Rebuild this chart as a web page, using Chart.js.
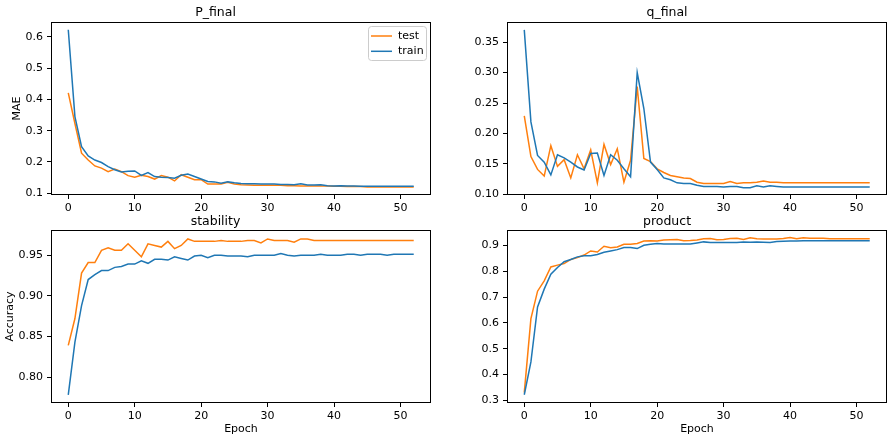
<!DOCTYPE html>
<html>
<head>
<meta charset="utf-8">
<script src="https://cdn.jsdelivr.net/npm/chart.js@4.4.0/dist/chart.umd.min.js"></script>
<style>
body { margin: 0; background: #fff; }
#wrap { position: relative; width: 894px; height: 441px; }
canvas { position: absolute; }
</style>
</head>
<body>
<div id="wrap">
	<canvas id="cP" width="447" height="214" style="left:0;top:0"></canvas>
	<canvas id="cQ" width="447" height="214" style="left:447px;top:0"></canvas>
	<canvas id="cS" width="447" height="229" style="left:0;top:212px"></canvas>
	<canvas id="cR" width="447" height="229" style="left:447px;top:212px"></canvas>
</div>
<script>
// values, epochs 0..52
var pTest = [0.421, 0.323, 0.228, 0.206, 0.187, 0.180, 0.169, 0.177, 0.169, 0.156,
	0.151, 0.157, 0.153, 0.145, 0.156, 0.151, 0.139, 0.159, 0.151, 0.143,
	0.143, 0.129, 0.129, 0.129, 0.135, 0.129, 0.127, 0.126, 0.125, 0.125,
	0.125, 0.125, 0.125, 0.124, 0.124, 0.123, 0.123, 0.123, 0.123, 0.123,
	0.122, 0.122, 0.121, 0.121, 0.121, 0.120, 0.120, 0.120, 0.120, 0.120,
	0.120, 0.120, 0.120];
var pTrain = [0.623, 0.345, 0.249, 0.219, 0.206, 0.198, 0.185, 0.175, 0.168, 0.170,
	0.171, 0.157, 0.166, 0.153, 0.151, 0.150, 0.148, 0.157, 0.161, 0.153,
	0.145, 0.137, 0.136, 0.132, 0.136, 0.133, 0.131, 0.130, 0.130, 0.129,
	0.129, 0.129, 0.128, 0.128, 0.127, 0.130, 0.126, 0.126, 0.127, 0.124,
	0.123, 0.124, 0.123, 0.123, 0.122, 0.122, 0.122, 0.122, 0.122, 0.122,
	0.122, 0.122, 0.122];

var qTest = [0.229, 0.162, 0.141, 0.130, 0.180, 0.146, 0.157, 0.127, 0.165, 0.142,
	0.173, 0.119, 0.182, 0.149, 0.175, 0.120, 0.156, 0.277, 0.159, 0.154,
	0.142, 0.136, 0.131, 0.129, 0.127, 0.126, 0.120, 0.118, 0.118, 0.118,
	0.118, 0.121, 0.118, 0.119, 0.119, 0.120, 0.122, 0.120, 0.120, 0.119,
	0.119, 0.119, 0.119, 0.119, 0.119, 0.119, 0.119, 0.119, 0.119, 0.119,
	0.119, 0.119, 0.119];
var qTrain = [0.370, 0.219, 0.164, 0.153, 0.132, 0.165, 0.160, 0.153, 0.145, 0.140,
	0.167, 0.168, 0.131, 0.165, 0.156, 0.142, 0.129, 0.300, 0.241, 0.153,
	0.141, 0.127, 0.124, 0.119, 0.118, 0.118, 0.115, 0.113, 0.113, 0.113,
	0.112, 0.113, 0.113, 0.111, 0.111, 0.114, 0.112, 0.114, 0.113, 0.112,
	0.112, 0.112, 0.112, 0.112, 0.112, 0.112, 0.112, 0.112, 0.112, 0.112,
	0.112, 0.112, 0.112];

var sTest = [0.839, 0.872, 0.928, 0.941, 0.941, 0.956, 0.959, 0.956, 0.956, 0.964,
	0.956, 0.948, 0.964, 0.962, 0.960, 0.967, 0.958, 0.962, 0.970, 0.967,
	0.967, 0.967, 0.967, 0.968, 0.967, 0.967, 0.967, 0.968, 0.968, 0.965,
	0.970, 0.968, 0.968, 0.968, 0.966, 0.970, 0.970, 0.968, 0.968, 0.968,
	0.968, 0.968, 0.968, 0.968, 0.968, 0.968, 0.968, 0.968, 0.968, 0.968,
	0.968, 0.968, 0.968];
var sTrain = [0.778, 0.843, 0.888, 0.920, 0.926, 0.931, 0.931, 0.935, 0.936, 0.939,
	0.939, 0.943, 0.940, 0.945, 0.945, 0.944, 0.948, 0.946, 0.944, 0.949,
	0.950, 0.947, 0.950, 0.950, 0.949, 0.949, 0.949, 0.948, 0.950, 0.950,
	0.950, 0.950, 0.952, 0.950, 0.949, 0.950, 0.950, 0.950, 0.951, 0.950,
	0.950, 0.950, 0.951, 0.951, 0.950, 0.951, 0.951, 0.951, 0.950, 0.951,
	0.951, 0.951, 0.951];

var rTest = [0.330, 0.617, 0.723, 0.763, 0.817, 0.824, 0.830, 0.846, 0.853, 0.863,
	0.879, 0.875, 0.897, 0.891, 0.894, 0.905, 0.905, 0.908, 0.917, 0.918,
	0.917, 0.921, 0.922, 0.923, 0.918, 0.919, 0.921, 0.926, 0.927, 0.922,
	0.923, 0.927, 0.928, 0.923, 0.930, 0.926, 0.925, 0.925, 0.925, 0.927,
	0.931, 0.926, 0.930, 0.928, 0.928, 0.928, 0.926, 0.926, 0.926, 0.926,
	0.926, 0.926, 0.926];
var rTrain = [0.322, 0.449, 0.662, 0.731, 0.789, 0.815, 0.837, 0.846, 0.856, 0.860,
	0.860, 0.865, 0.874, 0.879, 0.884, 0.892, 0.892, 0.888, 0.901, 0.905,
	0.908, 0.906, 0.906, 0.906, 0.906, 0.906, 0.910, 0.914, 0.912, 0.912,
	0.912, 0.912, 0.912, 0.914, 0.913, 0.914, 0.913, 0.912, 0.915, 0.916,
	0.917, 0.917, 0.918, 0.918, 0.918, 0.918, 0.918, 0.918, 0.918, 0.918,
	0.918, 0.918, 0.918];

var epochs = pTrain.map(function(v, i) { return i; });

Chart.defaults.font.family = 'DejaVu Sans';
Chart.defaults.font.size = 11;
Chart.defaults.color = '#000';

// matplotlib style box round the axes
var framePlugin = {
	id: 'frame',
	afterDatasetsDraw: function(chart) {
		var a = chart.chartArea, ctx = chart.ctx;
		ctx.save();
		ctx.strokeStyle = '#000';
		ctx.lineWidth = 1;
		ctx.strokeRect(Math.round(a.left) + 0.5, Math.round(a.top) + 0.5,
			Math.round(a.right - a.left) - 1, Math.round(a.bottom - a.top) - 1);
		ctx.restore();
	}
};

// legend with a frame, upper right inside the axes
var boxLegend = {
	id: 'boxLegend',
	afterDraw: function(chart) {
		var a = chart.chartArea, ctx = chart.ctx;
		var w = 58, h = 34;
		var x = Math.round(a.right - 5 - w), y = Math.round(a.top + 4);
		ctx.save();
		ctx.fillStyle = 'rgba(255,255,255,0.8)';
		ctx.strokeStyle = '#cccccc';
		ctx.lineWidth = 1;
		ctx.beginPath();
		ctx.roundRect(x + 0.5, y + 0.5, w, h, 3);
		ctx.fill();
		ctx.stroke();
		ctx.font = '11px "DejaVu Sans"';
		ctx.textBaseline = 'middle';
		chart.data.datasets.forEach(function(ds, i) {
			var ly = y + 10 + i * 15.3;
			ctx.strokeStyle = ds.borderColor;
			ctx.lineWidth = 1.5;
			ctx.beginPath();
			ctx.moveTo(x + 3, ly);
			ctx.lineTo(x + 24, ly);
			ctx.stroke();
			ctx.fillStyle = '#000';
			ctx.fillText(ds.label, x + 30, ly);
		});
		ctx.restore();
	}
};

function makePanel(id, title, test, train, y, o) {
	var plugins = [framePlugin];
	if (o.legend) plugins.push(boxLegend);
	return new Chart(document.getElementById(id), {
		type : 'line',
		data : {
			labels : epochs,
			datasets : [ {
				label : 'test',
				data : test,
				borderColor : '#ff7f0e',
				backgroundColor : '#ff7f0e',
				borderWidth : 1.5,
				pointRadius : 0,
				order : 1
			}, {
				label : 'train',
				data : train,
				borderColor : '#1f77b4',
				backgroundColor : '#1f77b4',
				borderWidth : 1.5,
				pointRadius : 0,
				order : 0
			} ]
		},
		plugins : plugins,
		options : {
			responsive : false,
			animation : false,
			layout : { padding : { top : 0, right : o.padRight, left : 0, bottom : 0 } },
			plugins : {
				legend : { display : false },
				tooltip : { enabled : false },
				title : {
					display : true,
					text : title,
					font : { size : 12.5, weight : 'normal' },
					color : '#000',
					padding : o.titlePad
				}
			},
			scales : {
				x : {
					type : 'linear',
					min : -2.6,
					max : 54.6,
					border : { display : false },
					grid : { drawOnChartArea : false, tickLength : 4, tickColor : '#000' },
					ticks : { stepSize : 10, includeBounds : false, padding : 3,
						callback : function(v) { return v; } },
					title : {
						display : o.xTitle,
						text : 'Epoch',
						font : { size : 11 },
						padding : { top : 0, bottom : 5 }
					},
					afterFit : function(s) { s.height = o.xHeight; }
				},
				y : {
					min : y.min,
					max : y.max,
					border : { display : false },
					grid : { drawOnChartArea : false, tickLength : 4, tickColor : '#000' },
					ticks : { stepSize : y.step, includeBounds : false, padding : 4,
						callback : function(v) { return v.toFixed(y.dec); } },
					title : {
						display : !!o.yTitle,
						text : o.yTitle || '',
						font : { size : 11 },
						padding : { top : o.yTitlePad || 0, bottom : 0 }
					},
					afterFit : function(s) { s.width = o.yWidth; }
				}
			}
		}
	});
}

makePanel('cP', 'P_final', pTest, pTrain,
	{ min : 0.094, max : 0.648, step : 0.1, dec : 1 },
	{ legend : true, padRight : 16, yWidth : 51, xHeight : 19, xTitle : false,
		yTitle : 'MAE', yTitlePad : 11, titlePad : { top : 5, bottom : 2 } });

makePanel('cQ', 'q_final', qTest, qTrain,
	{ min : 0.099, max : 0.383, step : 0.05, dec : 2 },
	{ padRight : 7, yWidth : 60, xHeight : 19, xTitle : false,
		titlePad : { top : 5, bottom : 2 } });

makePanel('cS', 'stability', sTest, sTrain,
	{ min : 0.768, max : 0.981, step : 0.05, dec : 2 },
	{ padRight : 16, yWidth : 51, xHeight : 38, xTitle : true,
		yTitle : 'Accuracy', yTitlePad : 4, titlePad : { top : 2, bottom : 1 } });

makePanel('cR', 'product', rTest, rTrain,
	{ min : 0.29, max : 0.96, step : 0.1, dec : 1 },
	{ padRight : 7, yWidth : 60, xHeight : 38, xTitle : true,
		titlePad : { top : 2, bottom : 1 } });
</script>
</body>
</html>
